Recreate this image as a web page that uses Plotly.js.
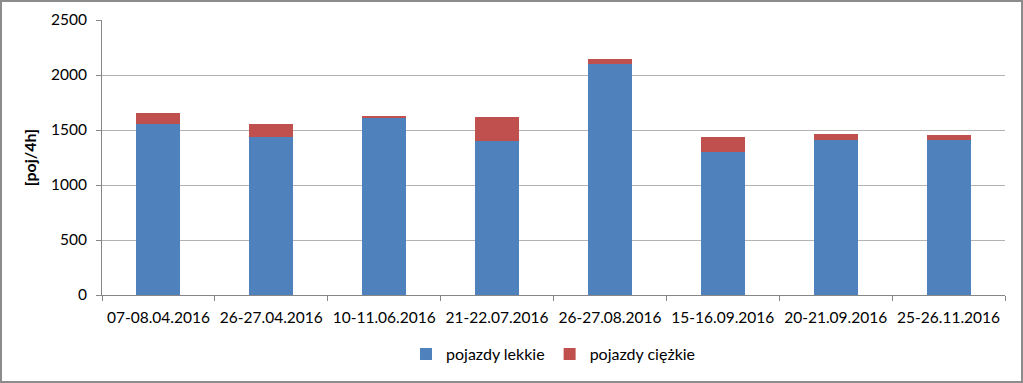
<!DOCTYPE html>
<html><head><meta charset="utf-8">
<script src="https://cdn.plot.ly/plotly-3.0.1.min.js"></script>
<style>html,body{margin:0;padding:0;background:#fff}#wrap{position:relative;width:1023px;height:383px}#chart{width:1023px;height:383px}#frame{position:absolute;left:0;top:0;width:1023px;height:383px;box-sizing:border-box;border:2px solid #8c8c8c;pointer-events:none}</style>
</head><body>
<div id="wrap"><div id="chart"></div><div id="frame"></div></div>
<script>
const categories = ["07-08.04.2016","26-27.04.2016","10-11.06.2016","21-22.07.2016","26-27.08.2016","15-16.09.2016","20-21.09.2016","25-26.11.2016"];
const lightVehicles = [1555, 1439, 1609, 1397, 2103, 1300, 1409, 1406];
const heavyVehicles = [102, 118, 21, 224, 40, 133, 55, 49];
const yTicks = [0, 500, 1000, 1500, 2000, 2500];

const font = {family: "Lato, 'Open Sans', sans-serif", size: 15.5, color: "#000"};
const traces = [
  {type: "bar", name: "pojazdy lekkie", x: categories, y: lightVehicles, marker: {color: "#4f81bd"}},
  {type: "bar", name: "pojazdy ciężkie", x: categories, y: heavyVehicles, marker: {color: "#c0504d"}}
];
const layout = {
  width: 1023, height: 383,
  barmode: "stack", bargap: 0.61,
  margin: {l: 102, r: 18, t: 20, b: 88},
  paper_bgcolor: "#fff", plot_bgcolor: "#fff",
  font: font,
  showlegend: true,
  legend: {orientation: "h", x: 0.5, xanchor: "center", y: -0.215, yanchor: "middle", font: {family: font.family, size: 16}, itemwidth: 30, traceorder: "normal"},
  xaxis: {type: "category", showgrid: false, showline: true, linecolor: "#868686", linewidth: 1, tickangle: 0,
          ticks: "outside", tickson: "boundaries", ticklen: 5, tickcolor: "#868686", tickfont: font, ticklabelstandoff: 8},
  yaxis: {range: [0, 2500], tickvals: yTicks, ticktext: yTicks.map(String), showgrid: true, gridcolor: "#b3b3b3", gridwidth: 1,
          showline: true, linecolor: "#868686", ticks: "outside", ticklen: 5, tickcolor: "#868686", tickfont: font, zeroline: false,
          ticklabelstandoff: 6,
          title: {text: "<b>[poj/4h]</b>", font: {family: font.family, size: 16}, standoff: 10}}
};
Plotly.newPlot("chart", traces, layout, {displayModeBar: false, staticPlot: true});
</script>
</body></html>
